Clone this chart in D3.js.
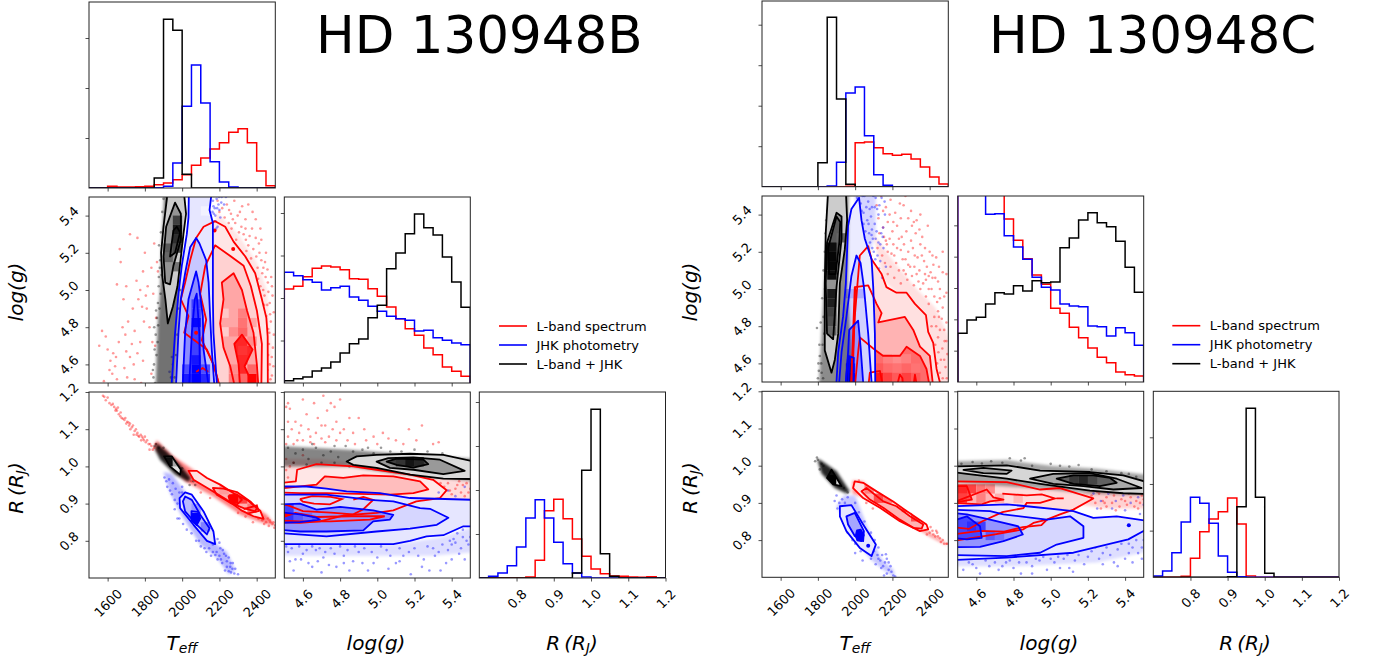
<!DOCTYPE html>
<html>
<head>
<meta charset="utf-8">
<script src="https://cdn.jsdelivr.net/npm/d3@7"></script>
<style>
  html, body { margin: 0; padding: 0; background: #fff; }
  text { font-family: "DejaVu Sans", sans-serif; fill: #000; }
</style>
</head>
<body>
<svg id="chart" width="1375" height="662"></svg>
<script>
// 1d histograms, 20 bins each
const bTeffRed = [0,0,5,3,3,4,5,10,15,25,40,68,90,117,136,167,178,136,51,7];
const bTeffBlue = [0,0,0,0,0,0,0,1,5,75,245,369,255,79,18,3,0,0,0,0];
const bTeffBlack = [0,0,0,0,0,0,0,30,506,473,41,0,0,0,0,0,0,0,0,0];
const bLoggRed = [282,290,319,344,351,348,340,313,311,283,260,228,193,163,143,105,85,48,35,20];
const bLoggBlue = [332,322,310,302,279,286,290,258,248,230,215,200,193,188,156,158,136,128,120,115];
const bLoggBlack = [7,13,18,36,45,63,90,118,132,196,233,343,390,448,507,466,444,378,303,227];
const bRadRed = [0,0,0,0,0,3,53,202,236,178,117,65,27,13,6,5,3,2,4,1];
const bRadBlue = [0,5,15,37,93,180,235,180,107,43,15,3,0,0,0,0,0,0,0,0];
const bRadBlack = [0,0,0,0,0,0,0,0,0,0,15,323,506,73,5,0,0,0,0,0];

const cTeffRed = [0,0,0,0,0,0,0,0,0,1,132,134,117,99,94,97,83,59,29,8];
const cTeffBlue = [0,0,0,0,0,0,0,2,73,281,299,153,36,4,0,0,0,0,0,0];
const cTeffBlack = [0,0,0,0,0,0,72,508,263,7,0,0,0,0,0,0,0,0,0,0];
const cLoggRed = [1000,900,800,700,600,489,425,370,321,293,221,206,164,133,102,74,58,30,22,18];
const cLoggBlue = [800,700,600,503,505,439,405,368,314,284,276,234,228,226,168,166,138,163,148,110];
const cLoggBlack = [146,186,194,234,268,264,289,273,304,298,300,403,432,486,508,478,466,422,344,269];
const cRadRed = [0,0,0,3,57,137,175,197,238,160,4,0,0,0,0,0,0,0,0,0];
const cRadBlue = [4,19,74,166,240,222,162,64,15,2,0,0,0,0,0,0,0,0,0,0];
const cRadBlack = [0,0,0,0,0,0,0,0,2,212,507,240,12,0,0,0,0,0,0,0];

// tick positions
const teffTicks = [1600,1800,2000,2200,2400];
const loggTicks = [4.6,4.8,5.0,5.2,5.4];
const radTicks = [0.8,0.9,1.0,1.1,1.2];
const bHistTicks = [[150,300,450],[127.5,255,382.5,510],[132,264,396,528]];
const cHistTicks = [[121.5,243,364.5,486],[94,188,282,376,470],[140,280,420]];

const legendLabels = ["L-band spectrum","JHK photometry","L-band + JHK"];

// ---- B, Teff vs log(g) ----
const bTgClouds = [
  ["red",[[2185,5.42],[2300,5.3],[2400,5.15],[2455,5.0],[2478,4.7],[2485,4.47],[2200,4.47],[2150,5.0]],0.1],
  ["black",[[1905,5.53],[1888,5.2],[1882,5.0],[1868,4.8],[1858,4.47],[1960,4.47],[1975,4.8],[1985,5.0],[1950,5.53]],0.55]
];
const bTgRedPts = [[1570,4.78],[1590,4.75],[1555,4.7],[1600,4.68],[1615,4.62],[1630,4.66],[1645,4.64],[1660,4.72],[1680,4.8],[1695,4.76],[1710,4.83],[1625,4.55],[1650,4.52],[1580,4.51],[1690,4.58],[1705,4.53],[1740,4.6],[1760,4.66],[1775,4.72],[1735,4.9],[1685,4.95],[1650,5.03],[1670,5.15],[1665,5.22],[1700,5.02],[1755,5.05],[1765,4.95],[1790,5.1],[1720,5.3],[1760,5.28],[1800,5.2],[1810,4.9],[1825,4.8],[1790,4.62],[1835,4.55],[1815,5.02],[1845,4.98],[1795,4.83],[1745,4.52],[1780,4.5],[1730,4.71],[1720,4.64],[1870,5.1],[1850,5.25],[1855,4.7],[1640,4.59],[1610,4.57],[1785,4.91],
  [2190,5.48],[2215,5.44],[2240,5.46],[2262,5.41],[2285,5.36],[2310,5.42],[2340,5.38],[2305,5.31],[2330,5.3],[2355,5.24],[2375,5.33],[2395,5.28],[2415,5.2],[2370,5.17],[2405,5.12],[2430,5.09],[2445,5.15],[2460,5.04],[2435,5.0],[2470,4.93],[2485,4.97],[2452,4.86],[2476,4.83],[2492,4.76],[2466,4.71],[2481,4.64],[2458,4.57],[2474,4.52],[2490,4.59],[2265,5.33],[2290,5.27],[2345,5.21],[2385,5.09],[2420,5.02],[2440,4.92],[2462,4.79],[2425,5.16],[2395,5.38],[2355,5.46],[2280,5.48],[2425,5.27],[2450,5.2],[2478,5.07],
  [2200,5.42],[2228,5.39],[2250,5.36],[2272,5.38],[2298,5.4],[2318,5.34],[2342,5.27],[2362,5.29],[2382,5.22],[2398,5.18],[2412,5.25],[2436,5.12],[2448,5.07],[2408,5.06],[2442,4.97],[2463,4.99],[2457,4.92],[2472,4.87],[2468,4.77],[2487,4.69],[2462,4.65],[2470,4.6],[2482,4.54],[2465,4.5],[2252,5.43],[2322,5.45],[2378,5.42],[2340,5.33],[2420,5.33],[2458,5.11],[2482,5.02],[2492,4.88],[1840,4.72],[1860,4.85],[1865,5.15],[1835,5.12],[1805,4.97],[1775,5.0],[1745,4.78],[1700,4.67]];
const bTgBluePts = [[2165,5.48],[2175,5.44],[2185,5.49],[2195,5.46],[2170,5.41],[2200,5.43],[2212,5.5],[2205,5.39],[2180,5.37],[2225,5.46],[2160,5.35],[1950,4.6],[1940,4.53],[2190,5.34],[2168,5.45],[2178,5.4],[2188,5.44],[2198,5.5],[2172,5.37],[2210,5.47],[2183,5.33],[2163,5.42],[2235,5.5],[1945,4.64],[1932,4.56]];
const bTgBlackPts = [[1900,5.49],[1893,5.42],[1886,5.31],[1880,5.12],[1876,5.24],[1874,5.02],[1870,4.93],[1865,4.85],[1858,4.76],[1852,4.68],[1849,4.6],[1846,4.53],[1843,4.57],[1855,4.5],[1862,4.65],[1868,4.72],[1871,4.81],[1878,4.9],[1884,4.98],[1890,5.08],[1897,5.2],[1960,4.53],[1968,4.65],[1975,4.76],[1982,4.9],[1990,5.0],[1860,4.89],[1875,5.07],[1882,5.16],[1850,4.8]];
const bTgRed = [
  [0.1,[[2460,4.47],[2459,4.75],[2452,4.85],[2428,4.95],[2392,5.09],[2339,5.18],[2276,5.26],[2231,5.34],[2177,5.37],[2115,5.34],[2075,5.28],[2043,5.16],[2016,5.04],[1993,4.95],[2034,4.86],[2011,4.77],[2133,4.68],[2172,4.59],[2204,4.47]]],
  [0.18,[[2425,4.47],[2428,4.71],[2401,4.89],[2369,5.02],[2330,5.13],[2249,5.19],[2177,5.24],[2124,5.13],[2097,4.98],[2129,4.84],[2106,4.73],[2168,4.6],[2204,4.47]]],
  [0.35,[[2276,5.09],[2213,5.04],[2222,4.95],[2204,4.82],[2222,4.69],[2258,4.59],[2285,4.47],[2410,4.47],[2401,4.6],[2383,4.77],[2348,4.89],[2321,5.0]]],
  [0.85,[[2321,4.76],[2378,4.68],[2335,4.59],[2389,4.47],[2312,4.47],[2303,4.6],[2280,4.71]]]
];
const bTgBlue = [
  [0.1,[[2036,5.53],[2034,5.39],[2025,5.3],[1998,5.13],[1980,4.98],[1962,4.77],[1942,4.47],[2188,4.47],[2168,4.77],[2165,4.95],[2165,5.2],[2165,5.36],[2147,5.43],[2159,5.53]]],
  [0.22,[[1966,4.47],[1980,4.77],[1993,4.95],[2016,5.09],[2043,5.23],[2075,5.28],[2093,5.25],[2129,5.16],[2142,5.04],[2150,4.86],[2159,4.68],[2174,4.47]]],
  [0.45,[[2002,4.47],[2016,4.77],[2034,4.95],[2061,5.05],[2075,5.1],[2088,5.04],[2111,4.86],[2115,4.68],[2144,4.47]]],
  [0.7,[[2037,4.47],[2052,4.77],[2068,4.95],[2078,4.98],[2092,4.77],[2097,4.47]]]
];
const bTgBlack = [
  [0.2,[[1923,4.82],[1910,4.95],[1894,5.07],[1887,5.2],[1900,5.34],[1918,5.49],[1920,5.53],[2009,5.53],[2021,5.41],[2007,5.3],[1989,5.14],[1975,5.02],[1950,4.91]]],
  [0.42,[[1909,5.04],[1900,5.18],[1914,5.34],[1962,5.47],[1993,5.41],[1993,5.27],[1953,5.13],[1935,5.03]]],
  [0.72,[[1935,5.18],[1953,5.32],[1971,5.34],[1989,5.31],[1962,5.2]]]
];
const bTgCells = [
  ["blue",2050,4.5,1],["blue",2050,4.55,1],["blue",2050,4.6,0.92],["blue",2050,4.65,0.75],["blue",2050,4.7,0.75],["blue",2050,4.75,0.75],["blue",2050,4.8,0.98],["blue",2050,4.85,0.75],["blue",2050,4.9,0.75],
  ["blue",2000,4.5,0.9],["blue",2000,4.55,0.7],["blue",2100,4.5,0.85],["blue",2100,4.55,0.7],["blue",2050,5.4,0.1],["blue",2100,5.4,0.05],
  ["red",2300,4.6,0.85],["red",2300,4.65,0.8],["red",2350,4.5,1],["red",2350,4.55,0.6],["red",2300,4.5,0.6],["red",2250,4.75,0.45],["red",2300,4.75,0.6],["red",2300,4.8,0.55],["red",2300,4.85,0.5],["red",2250,4.5,0.5],["red",2250,4.55,0.45],
  ["red",2200,4.75,0.2],["red",2200,4.85,0.22],["red",2350,4.7,0.45],["red",2350,4.8,0.35],
  ["black",1950,5.3,0.9],["black",1950,5.25,0.82],["black",1950,5.2,0.72],["black",1950,5.35,0.75],["black",1900,5.2,0.65],["black",1900,5.15,0.6],["black",1950,5.1,0.55]
];
const bTgSpots = [["red",2174,5.32],["red",2274,5.22],["red",2075,4.77]];
const bTgLines = [["red",[[2075,4.56],[2110,4.58],[2140,4.56]]]];

// ---- B, Teff vs R ----
const bTrClouds = [
  ["red",[[1864,1.07],[1945,1.03],[2061,0.99],[2165,0.955],[2312,0.915],[2455,0.87],[2500,0.84],[2420,0.85],[2312,0.87],[2165,0.92],[2016,0.96],[1890,1.03],[1846,1.05]],0.5],
  ["blue",[[1900,0.985],[1944,0.98],[2025,0.925],[2186,0.79],[2240,0.77],[2285,0.72],[2250,0.71],[2186,0.755],[2097,0.79],[1989,0.875],[1935,0.93]],0.28],
  ["black",[[1864,1.063],[1918,1.04],[1989,1.004],[2047,0.969],[2034,0.958],[1962,0.978],[1882,1.018],[1855,1.045]],0.85]
];
const bTrRedPts = [[1575,1.19],[1600,1.185],[1590,1.178],[1620,1.165],[1635,1.16],[1645,1.155],[1660,1.14],[1650,1.15],[1690,1.125],[1700,1.115],[1715,1.11],[1730,1.105],[1745,1.095],[1760,1.09],[1770,1.08],[1790,1.075],[1805,1.065],[1820,1.06],[1835,1.055],[1850,1.05],[1675,1.13],[1705,1.12],[1740,1.085],[1780,1.07],[1800,1.08],[1825,1.045],[2300,0.875],[2340,0.865],[2380,0.85],[2410,0.86],[2440,0.845],[2475,0.85],[2495,0.835],[2460,0.86],[2000,0.985],[2050,0.96],[1990,0.995],[2100,0.93],[2150,0.915],
  [1582,1.187],[1610,1.17],[1628,1.168],[1642,1.15],[1655,1.158],[1668,1.135],[1682,1.128],[1695,1.13],[1712,1.118],[1722,1.1],[1736,1.11],[1752,1.1],[1765,1.082],[1778,1.085],[1795,1.07],[1812,1.07],[1828,1.06],[1842,1.045],[1858,1.06],[1785,1.08],[1755,1.085],[1720,1.115],[1670,1.145],[2470,0.855],[2485,0.845],[2450,0.85],[2430,0.855],[2490,0.85],[2465,0.84],[2500,0.842]];
const bTrBluePts = [[2205,0.78],[2225,0.765],[2240,0.745],[2260,0.74],[2270,0.725],[2280,0.712],[2250,0.755],[2190,0.75],[2165,0.77],[2145,0.78],[2215,0.74],[2300,0.71],[2230,0.72],[2250,0.718],[1920,0.945],[1905,0.97],[1960,0.91],[2000,0.945],[2045,0.88],[2115,0.84],[2190,0.805],[1975,0.86],
  [1915,0.96],[1930,0.965],[1950,0.955],[1935,0.935],[1965,0.94],[1985,0.93],[1945,0.925],[1975,0.9],[2000,0.93],[1960,0.885],[1985,0.86],[2005,0.845],[2025,0.83],[2050,0.82],[2075,0.8],[2100,0.785],[2130,0.77],[2155,0.76],[2178,0.762],[2200,0.76],[2200,0.795],[2218,0.775],[2235,0.76],[2240,0.73],[2258,0.73],[2272,0.74],[2208,0.75],[2185,0.77],[2165,0.79],[2140,0.8],[2150,0.82],[2120,0.78],[2090,0.8],[2262,0.715],[2285,0.725]];
const bTrBlackPts = [[1852,1.055],[1860,1.06],[1875,1.05],[1900,1.05],[1925,1.025],[1960,1.01],[2000,0.995],[2040,0.95],[2060,0.96],[2070,0.95]];
const bTrRed = [
  [0.12,[[2034,0.988],[2079,0.988],[2133,0.969],[2204,0.951],[2276,0.928],[2348,0.91],[2419,0.881],[2437,0.859],[2383,0.866],[2321,0.881],[2240,0.91],[2151,0.937],[2061,0.964]]],
  [0.32,[[2165,0.942],[2222,0.94],[2294,0.931],[2366,0.906],[2401,0.888],[2392,0.879],[2330,0.888],[2258,0.902],[2186,0.924]]],
  [0.6,[[2249,0.92],[2294,0.925],[2321,0.91],[2294,0.897],[2258,0.905]]]
];
const bTrBlue = [
  [0.12,[[2016,0.93],[2052,0.924],[2115,0.879],[2168,0.825],[2177,0.791],[2133,0.8],[2061,0.843],[1989,0.888],[1986,0.915]]],
  [0.28,[[2016,0.919],[2052,0.91],[2097,0.87],[2147,0.834],[2133,0.817],[2079,0.843],[2016,0.879],[2004,0.906]]],
  [1,[[2050,0.88],[2085,0.878],[2097,0.86],[2078,0.842],[2050,0.855]]]
];
const bTrBlack = [
  [0.12,[[1903,1.027],[1944,1.027],[1993,0.991],[1989,0.978],[1935,1.0]]]
];
const bTrCells = [
  ["blue",2100,0.825,0.5],["blue",2050,0.875,0.4],
  ["red",2250,0.9,1],["red",2300,0.9,0.75],["red",2350,0.875,0.55],["red",2200,0.925,0.4],
  ["black",1900,1.0,0.95],["black",1900,1.025,0.9],["black",1950,1.0,0.35]
];
const bTrSpots = [];
const bTrLines = [["red",[[2330,0.885],[2401,0.895],[2410,0.88],[2350,0.873]]]];

// ---- B, log(g) vs R ----
const bGrClouds = [
  ["red",[[4.47,1.02],[4.7,1.02],[5.0,1.0],[5.53,0.96],[5.53,0.9],[4.47,0.9]],0.14],
  ["black",[[4.47,1.055],[4.85,1.045],[5.1,1.035],[5.53,1.02],[5.53,0.96],[5.1,0.98],[4.85,1.0],[4.6,1.0],[4.47,1.0]],0.48],
  ["blue",[[4.47,0.79],[5.1,0.79],[5.35,0.81],[5.53,0.84],[5.53,0.77],[5.3,0.76],[5.0,0.76],[4.47,0.76]],0.13]
];
const bGrRedPts = [[4.51,1.16],[4.52,1.17],[4.53,1.155],[4.6,1.18],[4.66,1.17],[4.71,1.19],[4.73,1.15],[4.75,1.17],[4.77,1.16],[4.8,1.18],[4.56,1.12],[4.62,1.14],[4.68,1.13],[4.72,1.11],[4.76,1.1],[4.85,1.13],[4.9,1.13],[4.93,1.1],[4.98,1.08],[5.03,1.09],[5.1,1.07],[5.17,1.1],[5.24,1.11],[5.3,1.06],[5.33,1.065],[4.52,1.08],[4.58,1.09],[4.64,1.08],[4.7,1.075],[4.8,1.09],[4.84,1.07],[4.55,1.06],[4.6,1.07],[4.66,1.06],[4.88,1.06],[5.0,1.06],[5.38,0.955],[5.42,0.94],[5.46,0.95],[5.49,0.93],[5.35,0.93],[5.4,0.925],[5.44,0.96],[5.3,0.945],[5.47,0.92],[5.36,0.945],[4.51,1.02],[4.53,1.0],[4.52,0.97],[4.55,1.01],[4.58,0.98],[4.6,1.03],
  [4.52,1.12],[4.54,1.1],[4.59,1.11],[4.63,1.1],[4.67,1.09],[4.7,1.11],[4.74,1.08],[4.78,1.12],[4.82,1.1],[4.87,1.09],[4.94,1.07],[5.06,1.075],[5.14,1.06],[5.21,1.07],[4.51,1.06],[4.57,1.07],[4.64,1.065],[4.72,1.065],[4.78,1.07],[5.32,0.94],[5.34,0.955],[5.39,0.935],[5.43,0.95],[5.45,0.93],[5.48,0.955],[5.5,0.94],[4.51,0.99]];
const bGrBluePts = [[4.52,0.77],[4.56,0.75],[4.6,0.765],[4.63,0.74],[4.67,0.775],[4.71,0.755],[4.75,0.78],[4.78,0.73],[4.82,0.76],[4.87,0.745],[4.9,0.77],[4.95,0.72],[5.0,0.755],[5.05,0.775],[5.1,0.74],[5.14,0.76],[5.2,0.78],[5.25,0.75],[5.28,0.72],[5.33,0.77],[5.37,0.74],[5.4,0.79],[5.44,0.765],[5.48,0.8],[5.5,0.81],[5.46,0.83],[5.43,0.82],[5.39,0.8],[5.47,0.75],[4.55,0.72],[4.7,0.715],[4.85,0.72],[5.18,0.71],[5.42,0.92],[5.47,0.945],[5.38,0.935],[5.33,0.93],[5.3,0.78],[4.92,0.74],[4.65,0.73],
  [4.51,0.785],[4.54,0.78],[4.58,0.785],[4.62,0.775],[4.65,0.785],[4.69,0.78],[4.72,0.77],[4.77,0.765],[4.8,0.785],[4.84,0.775],[4.88,0.785],[4.93,0.78],[4.97,0.77],[5.02,0.785],[5.07,0.76],[5.12,0.78],[5.17,0.77],[5.22,0.76],[5.27,0.785],[5.31,0.76],[5.35,0.79],[5.38,0.775],[5.42,0.795],[5.45,0.78],[5.49,0.79],[5.46,0.81],[5.41,0.805],[5.51,0.825],[4.53,0.745],[4.59,0.75],[4.68,0.745],[4.74,0.735],[4.82,0.74],[4.98,0.74],[5.12,0.745],[5.24,0.73],[5.4,0.75],[5.34,0.72],[5.06,0.725]];
const bGrBlackPts = [[4.52,1.05],[4.56,1.035],[4.6,1.045],[4.63,1.02],[4.67,1.05],[4.71,1.03],[4.75,1.04],[4.79,1.025],[4.83,1.055],[4.87,1.04],[4.92,1.045],[4.98,1.035],[5.02,1.05],[5.07,1.04],[5.13,1.04],[5.2,1.045],[5.27,1.04],[5.35,1.035],[4.55,1.01],[4.62,1.005],[4.7,1.01],[4.77,1.01],[4.85,1.0],[4.65,1.06],[4.77,1.055],[4.95,1.05]];
const bGrRed = [
  [0.1,[[4.47,0.955],[4.562,0.96],[4.569,0.991],[4.673,1.006],[4.871,1.0],[4.996,0.991],[5.176,0.978],[5.3,0.964],[5.373,0.936],[5.337,0.915],[5.21,0.906],[5.086,0.882],[4.996,0.875],[4.817,0.868],[4.691,0.852],[4.584,0.848],[4.47,0.85]]],
  [0.26,[[4.47,0.94],[4.673,0.951],[4.718,0.973],[4.817,0.969],[4.925,0.976],[5.086,0.973],[5.23,0.96],[5.274,0.938],[5.194,0.928],[5.068,0.924],[4.727,0.928],[4.584,0.928],[4.47,0.93]]]
];
const bGrBlue = [
  [0.1,[[4.47,0.946],[4.62,0.946],[4.727,0.94],[4.835,0.933],[5.014,0.928],[5.176,0.915],[5.53,0.91],[5.53,0.839],[5.463,0.839],[5.355,0.815],[5.265,0.812],[5.176,0.8],[5.086,0.791],[4.727,0.791],[4.47,0.791]]],
  [0.16,[[4.47,0.924],[4.727,0.924],[4.96,0.91],[5.086,0.906],[5.23,0.888],[5.283,0.886],[5.382,0.862],[5.32,0.843],[5.176,0.833],[4.996,0.825],[4.727,0.812],[4.47,0.821]]],
  [0.42,[[4.47,0.897],[4.584,0.9],[4.673,0.884],[4.8,0.891],[4.978,0.882],[5.086,0.87],[5.068,0.857],[4.978,0.852],[4.925,0.828],[4.727,0.825],[4.584,0.825],[4.47,0.83]]],
  [0.65,[[4.47,0.877],[4.584,0.871],[4.673,0.862],[4.691,0.857],[4.584,0.85],[4.47,0.848]]]
];
const bGrBlack = [
  [0.14,[[4.835,1.013],[4.889,1.027],[4.996,1.031],[5.176,1.034],[5.355,1.031],[5.53,1.012],[5.53,0.966],[5.355,0.967],[5.176,0.978],[4.996,0.996],[4.871,1.004]]],
  [0.4,[[4.996,1.013],[5.059,1.022],[5.194,1.024],[5.337,1.018],[5.47,0.988],[5.355,0.979],[5.194,0.991],[5.068,0.996]]],
  [0.75,[[5.05,1.013],[5.104,1.021],[5.248,1.018],[5.274,1.006],[5.194,0.997],[5.104,1.004]]]
];
const bGrCells = [
  ["blue",4.5,0.85,0.8],["blue",4.5,0.875,0.75],["blue",4.55,0.85,0.65],["blue",4.6,0.85,0.55],
  ["black",5.15,1.0,0.92],["black",5.2,1.0,0.85],["black",5.1,1.0,0.8]
];
const bGrSpots = [];
const bGrLines = [
  ["red",[[4.584,0.912],[4.65,0.92],[4.75,0.918],[4.81,0.912],[4.745,0.898],[4.66,0.9],[4.6,0.905],[4.584,0.912]]],
  ["red",[[4.47,0.9],[4.52,0.895],[4.6,0.88],[4.75,0.876],[4.871,0.871],[4.925,0.885],[4.978,0.91],[4.925,0.918],[4.871,0.911]]],
  ["red",[[4.47,0.86],[4.56,0.875],[4.673,0.864],[4.86,0.866],[5.04,0.866],[4.96,0.857],[4.75,0.852],[4.584,0.852],[4.47,0.855]]],
  ["red",[[4.47,0.88],[4.53,0.87],[4.47,0.868]]]
];

// ---- C, Teff vs log(g) ----
const cTgClouds = [
  ["red",[[2097,5.3],[2204,5.15],[2330,5.0],[2430,4.9],[2500,4.75],[2530,4.47],[2400,4.47],[2300,4.9],[2150,5.05]],0.12],
  ["blue",[[2000,5.53],[2110,5.53],[2110,5.3],[2080,5.2],[2040,5.25],[2000,5.4]],0.16],
  ["black",[[1860,5.53],[1845,5.25],[1832,5.0],[1820,4.78],[1805,4.47],[1990,4.47],[1960,5.0],[1965,5.53]],0.45]
];
const cTgRedPts = [[2140,5.5],[2165,5.44],[2190,5.48],[2215,5.41],[2240,5.46],[2270,5.5],[2300,5.42],[2330,5.37],[2125,5.38],[2150,5.33],[2175,5.36],[2200,5.31],[2225,5.34],[2250,5.28],[2275,5.31],[2300,5.26],[2325,5.3],[2350,5.24],[2120,5.22],[2145,5.18],[2170,5.24],[2195,5.19],[2220,5.14],[2245,5.21],[2270,5.16],[2295,5.12],[2320,5.18],[2345,5.1],[2370,5.15],[2395,5.07],[2420,5.13],[2445,5.04],[2470,5.09],[2490,4.98],[2175,5.08],[2210,5.06],[2245,5.03],[2280,5.05],[2315,5.02],[2350,5.0],[2380,4.96],[2410,5.0],[2440,4.93],[2470,4.9],[2490,4.82],[2395,4.92],[2425,4.85],[2455,4.78],[2480,4.72],[2430,4.7],[2460,4.62],[2485,4.58],[2440,4.6],[2470,4.52],[2450,4.85],[2360,5.28],[2400,5.2],[2435,5.17],[2470,5.2],[2225,5.22],[2260,5.1],[2305,5.34],[2350,5.4],[2390,5.34],[2260,5.45],[2455,4.95],[2410,4.8],[2495,4.65],[2380,5.05],[2330,5.08],
  [2155,5.28],[2185,5.27],[2205,5.24],[2235,5.27],[2262,5.24],[2285,5.2],[2310,5.22],[2335,5.17],[2358,5.18],[2385,5.12],[2405,5.09],[2430,5.06],[2455,5.0],[2478,4.96],[2160,5.14],[2190,5.12],[2235,5.1],[2272,5.08],[2305,5.07],[2340,5.04],[2365,5.03],[2395,5.0],[2425,4.96],[2445,4.88],[2465,4.84],[2435,4.8],[2478,4.78],[2445,4.74],[2468,4.68],[2490,4.72],[2447,4.66],[2478,4.62],[2455,4.55],[2492,4.52],[2175,5.2],[2210,5.18],[2255,5.16],[2285,5.13],[2318,5.12],[2375,5.08],[2415,5.06],[2150,5.42],[2185,5.4],[2205,5.36],[2245,5.38],[2285,5.38],[2315,5.36],[2130,5.3],[2115,5.45],[2165,5.26],[2345,5.32],[2375,5.22],[2415,5.18],[2450,5.12],[2490,5.08]];
const cTgBluePts = [[2010,5.49],[2030,5.46],[2050,5.5],[2070,5.47],[2090,5.44],[2110,5.49],[2130,5.45],[2045,5.41],[2065,5.37],[2085,5.39],[2105,5.35],[2125,5.4],[2075,5.3],[2095,5.27],[2115,5.31],[2135,5.24],[2100,5.2],[2120,5.18],[2150,5.33],[2160,5.4],[2080,5.25],[2045,5.35],[2105,5.44],[2140,5.3],[2165,5.12],[2135,5.15],
  [2020,5.44],[2040,5.5],[2060,5.44],[2078,5.43],[2098,5.5],[2118,5.43],[2142,5.49],[2055,5.31],[2072,5.35],[2090,5.32],[2110,5.27],[2125,5.25],[2152,5.22],[2148,5.28],[2092,5.22],[2108,5.16],[2128,5.11],[2145,5.06],[2088,5.29],[2035,5.42],[2158,5.47]];
const cTgBlackPts = [[1855,5.48],[1845,5.37],[1837,5.2],[1830,5.1],[1823,4.95],[1815,4.82],[1808,4.7],[1803,4.6],[1800,4.52],[1818,4.6],[1825,4.7],[1830,4.85],[1838,5.0],[1842,5.3],[1820,4.55],[1810,4.64],[1828,4.52],[1834,4.76],[1841,4.9],[1795,4.79],[1850,5.42],[1805,4.56]];
const cTgRed = [
  [0.12,[[2070,5.23],[2088,5.16],[2142,5.08],[2168,5.01],[2222,4.98],[2276,4.98],[2321,4.92],[2380,4.86],[2392,4.77],[2419,4.71],[2437,4.57],[2462,4.47],[1978,4.47],[1998,4.85],[2025,5.18]]],
  [0.3,[[1998,5.01],[2070,5.02],[2097,4.96],[2115,4.92],[2142,4.87],[2124,4.82],[2267,4.85],[2312,4.78],[2348,4.69],[2401,4.64],[2419,4.47],[1978,4.47]]],
  [0.58,[[2025,4.74],[2097,4.68],[2151,4.64],[2240,4.64],[2276,4.69],[2348,4.64],[2383,4.57],[2401,4.47],[1998,4.47],[2016,4.66]]],
  [0.95,[[2070,4.47],[2079,4.55],[2133,4.56],[2151,4.47]]],
  [0.95,[[2222,4.47],[2240,4.54],[2254,4.52],[2258,4.47]]],
  [0.95,[[2312,4.47],[2321,4.54],[2333,4.47]]]
];
const cTgBlue = [
  [0.08,[[1898,4.47],[1909,4.66],[1935,4.85],[1950,5.03],[1957,5.21],[1962,5.34],[1980,5.43],[2021,5.49],[2034,5.37],[2052,5.27],[2088,5.16],[2097,5.01],[2106,4.76],[2108,4.47]]],
  [0.18,[[1912,4.47],[1927,4.66],[1953,4.85],[1980,5.07],[2007,5.18],[2029,5.14],[2047,5.01],[2070,4.76],[2090,4.47]]],
  [0.42,[[1948,4.47],[1962,4.66],[1968,4.78],[2016,4.83],[2029,4.69],[2045,4.47]]],
  [0.8,[[1948,4.47],[1962,4.64],[1993,4.63],[1990,4.47]]]
];
const cTgBlack = [
  [0.2,[[1873,4.55],[1837,4.67],[1837,4.85],[1837,5.03],[1842,5.3],[1855,5.53],[1950,5.53],[1957,5.37],[1944,5.21],[1918,5.03],[1909,4.76],[1891,4.62]]],
  [0.42,[[1882,4.73],[1849,4.76],[1842,5.03],[1849,5.25],[1900,5.41],[1927,5.39],[1927,5.27],[1900,5.01]]],
  [0.65,[[1855,5.22],[1900,5.39],[1920,5.36],[1915,5.25],[1895,5.08],[1860,5.08]]]
];
const cTgCells = [
  ["black",1850,5.2,0.95],["black",1850,5.15,0.98],["black",1850,5.1,0.98],["black",1850,5.05,0.95],["black",1850,4.95,0.9],["black",1850,4.9,0.88],["black",1850,4.85,0.75],["black",1850,4.8,0.7],["black",1850,4.75,0.6],["black",1900,5.25,0.6],
  ["blue",1950,4.95,0.32],["blue",2000,4.95,0.32],["blue",1950,4.5,1],["blue",1950,4.55,0.9],
  ["red",2100,4.5,0.9],["red",2050,4.5,0.8],["red",2150,4.5,0.75],["red",2200,4.5,0.65],["red",2250,4.5,0.75],["red",2300,4.5,0.65],["red",2100,4.55,0.65],["red",2200,4.55,0.55],["red",2250,4.55,0.6],["red",2300,4.55,0.55],["red",2150,4.6,0.5],["red",2200,4.6,0.45],["red",2250,4.6,0.5]
];
const cTgSpots = [];
const cTgLines = [["blue",[[1962,4.47],[1968,4.6],[1975,4.64]]],["red",[[1985,4.47],[1998,4.9],[2000,5.01]]]];

// ---- C, Teff vs R ----
const cTrClouds = [
  ["red",[[1985,0.96],[2043,0.958],[2151,0.895],[2321,0.845],[2480,0.795],[2495,0.785],[2400,0.81],[2240,0.86],[2097,0.905],[1985,0.925]],0.42],
  ["blue",[[1940,0.92],[2000,0.92],[2070,0.83],[2140,0.75],[2205,0.72],[2215,0.7],[2150,0.72],[2080,0.75],[1980,0.815],[1900,0.89]],0.22],
  ["black",[[1796,1.019],[1819,1.013],[1900,0.985],[1971,0.931],[1953,0.925],[1891,0.94],[1819,0.98]],0.85]
];
const cTrRedPts = [[2390,0.83],[2420,0.815],[2445,0.81],[2470,0.8],[2490,0.79],[2405,0.835],[2435,0.825],[2460,0.795],[2350,0.85],[2375,0.84],[2300,0.87],[2020,0.96],[2000,0.955],[2150,0.905],[2210,0.865],[2260,0.86],[2095,0.885],[2060,0.9],[2400,0.82],[2415,0.825],[2430,0.81],[2455,0.805],[2478,0.79],[2495,0.79],[2440,0.82],[2385,0.815]];
const cTrBluePts = [[2160,0.74],[2180,0.72],[2195,0.715],[2170,0.75],[2150,0.73],[2135,0.745],[2205,0.705],[2120,0.76],[2100,0.77],[1900,0.92],[1915,0.9],[1905,0.885],[1925,0.865],[1940,0.845],[1960,0.82],[2000,0.79],[2060,0.77],[2040,0.745],
  [1930,0.91],[1945,0.9],[1960,0.915],[1890,0.905],[2000,0.9],[2020,0.875],[2050,0.85],[2085,0.82],[2105,0.8],[2125,0.78],[2145,0.76],[2165,0.762],[2125,0.75],[2140,0.725],[2155,0.705],[2190,0.73],[2110,0.735],[2085,0.75],[2000,0.765],[2170,0.71],[2180,0.74],[2215,0.702],[1985,0.8],[2030,0.77]];
const cTrBlackPts = [[1795,1.022],[1800,1.016],[1785,1.012],[1820,1.005],[1830,1.0],[1810,0.99],[1910,0.955],[1940,0.94],[1960,0.928]];
const cTrRed = [
  [0.12,[[1989,0.94],[1998,0.958],[2043,0.954],[2115,0.931],[2204,0.904],[2276,0.878],[2383,0.842],[2392,0.829],[2348,0.824],[2240,0.851],[2133,0.887],[2043,0.913]]],
  [0.3,[[2034,0.931],[2061,0.94],[2151,0.904],[2222,0.891],[2294,0.864],[2366,0.842],[2357,0.831],[2312,0.833],[2240,0.855],[2151,0.887],[2079,0.909]]]
];
const cTrBlue = [
  [0.1,[[1918,0.891],[1980,0.894],[2043,0.842],[2111,0.788],[2088,0.757],[2025,0.779],[1953,0.824],[1918,0.864]]],
  [0.35,[[1953,0.864],[1998,0.873],[2047,0.824],[2043,0.797],[1998,0.811],[1962,0.842]]],
  [1,[[2010,0.826],[2030,0.828],[2046,0.813],[2033,0.797],[2012,0.799],[2003,0.812]]]
];
const cTrBlack = [
  [0.12,[[1849,0.967],[1873,0.989],[1927,0.945],[1882,0.95]]]
];
const cTrCells = [
  ["red",2100,0.9,0.7],["red",2150,0.9,0.5],["red",2250,0.875,0.65],["red",2300,0.85,0.7],["red",2050,0.925,0.5],
  ["black",1850,0.95,1],["black",1850,0.975,0.95],["black",1900,0.975,0.55],["black",1900,0.95,0.15]
];
const cTrSpots = [["blue",2070,0.785]];
const cTrLines = [];

// ---- C, log(g) vs R ----
const cGrClouds = [
  ["red",[[5.18,0.93],[5.53,0.945],[5.53,0.885],[5.3,0.885],[5.1,0.9]],0.18],
  ["black",[[4.47,1.012],[4.764,1.015],[5.0,1.0],[5.25,0.992],[5.53,0.975],[5.53,0.92],[5.2,0.925],[4.9,0.94],[4.47,0.955]],0.36],
  ["blue",[[4.47,0.75],[5.0,0.76],[5.2,0.79],[5.4,0.8],[5.53,0.84],[5.53,0.77],[5.25,0.74],[4.8,0.73],[4.47,0.73]],0.13]
];
const cGrRedPts = [[5.22,0.92],[5.26,0.925],[5.3,0.915],[5.34,0.92],[5.38,0.91],[5.42,0.925],[5.46,0.905],[5.49,0.92],[5.24,0.9],[5.28,0.905],[5.33,0.9],[5.37,0.89],[5.41,0.895],[5.45,0.89],[5.48,0.9],[5.3,0.89],[5.36,0.93],[5.44,0.935],[5.2,0.91],[5.25,0.93],[5.32,0.93],[5.39,0.93],[5.47,0.93],[5.27,0.885],[5.35,0.88],[5.43,0.915],[5.5,0.91],[5.4,0.905],[5.29,0.9],[5.47,0.885]];
const cGrBluePts = [[4.53,0.72],[4.58,0.735],[4.62,0.71],[4.67,0.73],[4.72,0.72],[4.76,0.74],[4.8,0.725],[4.84,0.71],[4.9,0.73],[4.94,0.745],[4.98,0.72],[5.02,0.74],[5.07,0.75],[5.1,0.725],[5.15,0.76],[5.18,0.735],[5.22,0.77],[5.26,0.75],[5.3,0.78],[5.34,0.74],[5.38,0.79],[5.42,0.765],[5.46,0.8],[5.49,0.78],[5.44,0.74],[5.23,0.925],[5.27,0.905],[5.31,0.925],[5.35,0.905],[5.39,0.92],[5.43,0.9],[5.47,0.915],[5.5,0.895],[5.33,0.885],[5.4,0.88],[5.48,0.87],[5.25,0.885],
  [4.56,0.74],[4.6,0.725],[4.65,0.745],[4.7,0.74],[4.74,0.73],[4.78,0.745],[4.83,0.74],[4.87,0.74],[4.92,0.75],[4.96,0.755],[5.0,0.75],[5.04,0.755],[5.09,0.76],[5.13,0.745],[5.17,0.775],[5.2,0.755],[5.24,0.78],[5.28,0.765],[5.32,0.76],[5.36,0.775],[5.4,0.75],[5.44,0.78],[5.47,0.765],[5.5,0.8],[5.49,0.75],[5.36,0.73],[5.28,0.735],[5.12,0.715],[5.05,0.725],[4.9,0.71],[5.45,0.82],[5.42,0.79],[5.5,0.825]];
const cGrBlackPts = [[4.52,1.005],[4.58,1.01],[4.63,1.006],[4.68,1.012],[4.74,1.008],[4.78,1.02],[4.84,1.014],[4.86,1.02],[4.9,1.0],[5.0,1.005],[5.1,0.998],[5.15,1.002],[5.22,0.99],[5.3,0.985],[5.38,0.98],[5.46,0.97],[5.42,0.978],[5.05,1.0]];
const cGrRed = [
  [0.14,[[4.47,0.958],[4.764,0.956],[4.943,0.936],[5.05,0.94],[5.229,0.912],[5.122,0.882],[5.05,0.869],[4.979,0.855],[4.907,0.846],[4.853,0.829],[4.692,0.815],[4.47,0.797]]],
  [0.3,[[4.47,0.9],[4.656,0.936],[4.692,0.915],[4.746,0.909],[4.674,0.904],[4.629,0.896],[4.47,0.9]]],
  [0.7,[[4.47,0.945],[4.549,0.945],[4.576,0.909],[4.47,0.9]]]
];
const cGrBlue = [
  [0.1,[[4.47,0.891],[4.764,0.896],[4.871,0.891],[5.122,0.878],[5.229,0.86],[5.355,0.864],[5.53,0.851],[5.53,0.833],[5.417,0.802],[5.3,0.788],[5.122,0.766],[4.764,0.753],[4.47,0.746]]],
  [0.16,[[4.47,0.882],[4.674,0.878],[4.746,0.869],[4.979,0.855],[5.104,0.864],[5.176,0.837],[5.176,0.806],[5.032,0.788],[4.943,0.766],[4.764,0.757],[4.47,0.76]]],
  [0.42,[[4.47,0.873],[4.549,0.869],[4.674,0.855],[4.826,0.837],[4.85,0.815],[4.746,0.797],[4.62,0.782],[4.47,0.781]]],
  [0.72,[[4.47,0.851],[4.549,0.864],[4.62,0.837],[4.629,0.806],[4.549,0.802],[4.47,0.806]]]
];
const cGrBlack = [
  [0.16,[[4.47,0.998],[4.764,1.001],[4.943,0.987],[5.211,0.983],[5.39,0.974],[5.53,0.954],[5.53,0.924],[5.39,0.926],[5.211,0.933],[4.943,0.951],[4.764,0.965],[4.549,0.978],[4.47,0.983]]],
  [0.34,[[4.531,0.989],[4.638,0.994],[4.79,0.987],[4.764,0.978],[4.638,0.98]]],
  [0.34,[[4.889,0.965],[5.014,0.978],[5.211,0.98],[5.355,0.965],[5.489,0.94],[5.337,0.936],[5.176,0.945],[5.014,0.951]]],
  [0.62,[[5.032,0.965],[5.122,0.974],[5.229,0.974],[5.319,0.967],[5.355,0.954],[5.265,0.945],[5.122,0.951]]]
];
const cGrCells = [
  ["black",5.15,0.95,0.85],["black",5.1,0.95,0.78],["black",5.2,0.95,0.72],
  ["red",4.5,0.925,0.85],["red",4.55,0.925,0.75],["red",4.5,0.9,0.75],["red",4.6,0.925,0.55],["red",4.65,0.925,0.45],["red",4.6,0.9,0.5],["red",4.7,0.9,0.32],["red",4.8,0.9,0.28],
  ["blue",4.55,0.825,0.82],["blue",4.6,0.825,0.75],["blue",4.65,0.8,0.65],["blue",4.7,0.8,0.55]
];
const cGrSpots = [["blue",5.42,0.84]];
const cGrLines = [
  ["red",[[4.47,0.815],[4.62,0.825],[4.75,0.823],[4.85,0.835],[4.95,0.84],[4.98,0.855]]],
  ["red",[[4.47,0.835],[4.56,0.83],[4.63,0.85],[4.74,0.875],[4.853,0.886],[4.871,0.9],[4.943,0.9],[5.023,0.912],[4.952,0.923],[4.871,0.92],[4.74,0.925]]],
  ["red",[[5.03,0.912],[5.07,0.912]]]
];

const COLORS = {red:"#ff0000", blue:"#0000ff", black:"#000000"};
const ORDER = ["red","blue","black"];
const DOMAINS = {teff:[1500,2500], logg:[4.5,5.5], rad:[0.7,1.2]};
const BIN = {teff:50, logg:0.05, rad:0.025};
const TICKS = {teff:teffTicks, logg:loggTicks, rad:radTicks};
const FMT = {teff:d3.format("d"), logg:d3.format(".1f"), rad:d3.format(".1f")};

const svg = d3.select("#chart");
const defs = svg.append("defs");
defs.append("filter").attr("id","soft").append("feGaussianBlur").attr("stdDeviation",1.6);
let clipCount = 0;

function newClip() {
  const id = "clip" + (clipCount++);
  return {id:id, node:defs.append("clipPath").attr("id",id)};
}

function makePanel(box) {
  // box: x0,x1,y0,y1 in pixels
  const clip = newClip();
  clip.node.append("rect")
    .attr("x",box.x0).attr("y",box.y0).attr("width",box.x1-box.x0).attr("height",box.y1-box.y0);
  const g = svg.append("g");
  return {g:g, inner:g.append("g").attr("clip-path",`url(#${clip.id})`), box:box};
}

function frame(p, xs, ys, xTicks, yTicks, showX, showY, fmtX, fmtY) {
  const box = p.box;
  const xAxis = p.g.append("g").attr("transform",`translate(0,${box.y1})`)
    .call(d3.axisBottom(xs).tickValues(xTicks).tickSize(3.5).tickSizeOuter(0).tickFormat(showX ? fmtX : ""));
  const yAxis = p.g.append("g").attr("transform",`translate(${box.x0},0)`)
    .call(d3.axisLeft(ys).tickValues(yTicks).tickSize(3.5).tickSizeOuter(0).tickFormat(showY ? fmtY : ""));
  [xAxis,yAxis].forEach(a => {
    a.selectAll(".domain").remove();
    a.selectAll("line").attr("stroke","#222").attr("stroke-width",0.8);
    a.selectAll("text").attr("font-size",13).attr("font-family","DejaVu Sans");
  });
  xAxis.selectAll("text").each(function() {
    const n = d3.select(this).text().length;
    d3.select(this).attr("text-anchor","middle").attr("x",0).attr("y",0).attr("dy",".35em")
      .attr("transform",`translate(0,${n > 3 ? 25 : 21}) rotate(-45)`);
  });
  yAxis.selectAll("text").each(function() {
    d3.select(this).attr("text-anchor","middle").attr("x",0).attr("y",0).attr("dy",".35em")
      .attr("transform","translate(-20,0) rotate(-45)");
  });
  p.g.append("rect").attr("x",box.x0).attr("y",box.y0).attr("width",box.x1-box.x0).attr("height",box.y1-box.y0)
    .attr("fill","none").attr("stroke","#222").attr("stroke-width",1);
}

function histPanel(box, key, hists, ticks, showX, fmtX) {
  const p = makePanel(box);
  const xs = d3.scaleLinear().domain(DOMAINS[key]).range([box.x0,box.x1]);
  const ys = d3.scaleLinear().domain([0,box.y1-box.y0].map(v => v*3)).range([box.y1,box.y0]);
  const line = d3.line().curve(d3.curveStepAfter).x(d => xs(d[0])).y(d => ys(d[1]));
  ORDER.forEach((name,i) => {
    const pts = [[DOMAINS[key][0],0]];
    hists[i].forEach((v,k) => pts.push([DOMAINS[key][0]+k*BIN[key],v]));
    pts.push([DOMAINS[key][1],hists[i][hists[i].length-1]]);
    pts.push([DOMAINS[key][1],0]);
    p.inner.append("path").attr("d",line(pts)).attr("fill","none")
      .attr("stroke",COLORS[name]).attr("stroke-width",1.5);
  });
  frame(p, xs, ys, TICKS[key], ticks, showX, false, FMT[key], null);
}

function densityPanel(box, keyX, keyY, d, showX, showY) {
  const p = makePanel(box);
  const xs = d3.scaleLinear().domain(DOMAINS[keyX]).range([box.x0,box.x1]);
  const ys = d3.scaleLinear().domain(DOMAINS[keyY]).range([box.y1,box.y0]);
  const line = d3.line().x(v => xs(v[0])).y(v => ys(v[1]));
  const shade = (name,l) => d3.interpolateRgb("#ffffff",COLORS[name])(l);

  ORDER.forEach(name => {
    d.clouds.filter(c => c[0] === name).forEach(c => {
      p.inner.append("path").attr("d",line(c[1])+"Z").attr("fill",COLORS[name])
        .attr("opacity",c[2]).attr("filter","url(#soft)");
    });
    p.inner.append("g").selectAll("circle").data(d.pts[name]).join("circle")
      .attr("cx",v => xs(v[0])).attr("cy",v => ys(v[1])).attr("r",1.3)
      .attr("fill",COLORS[name]).attr("opacity",0.4);
    d.levels[name].forEach(c => {
      p.inner.append("path").attr("d",line(c[1])+"Z").attr("fill",shade(name,c[0]));
    });
    // the density cells only show inside the outer contour
    const cellClip = newClip();
    cellClip.node.append("path").attr("d",line(d.levels[name][0][1])+"Z");
    const cells = p.inner.append("g").attr("clip-path",`url(#${cellClip.id})`);
    d.cells.filter(c => c[0] === name).forEach(c => {
      cells.append("rect").attr("x",xs(c[1])).attr("y",ys(c[2]+BIN[keyY]))
        .attr("width",xs(c[1]+BIN[keyX])-xs(c[1])).attr("height",ys(c[2])-ys(c[2]+BIN[keyY]))
        .attr("fill",shade(name,c[3]));
    });
  });
  ORDER.forEach(name => {
    d.levels[name].forEach(c => {
      p.inner.append("path").attr("d",line(c[1])+"Z").attr("fill","none")
        .attr("stroke",COLORS[name]).attr("stroke-width",1.8).attr("stroke-linejoin","round");
    });
    d.lines.filter(c => c[0] === name).forEach(c => {
      p.inner.append("path").attr("d",line(c[1])).attr("fill","none")
        .attr("stroke",COLORS[name]).attr("stroke-width",1.8);
    });
    d.spots.filter(c => c[0] === name).forEach(c => {
      p.inner.append("circle").attr("cx",xs(c[1])).attr("cy",ys(c[2])).attr("r",2).attr("fill",COLORS[name]);
    });
  });
  frame(p, xs, ys, TICKS[keyX], TICKS[keyY], showX, showY, FMT[keyX], FMT[keyY]);
}

function axisLabel(x, y, rotate, parts) {
  const t = svg.append("text").attr("transform",`translate(${x},${y}) rotate(${rotate})`)
    .attr("text-anchor","middle").attr("font-size",20);
  parts.forEach(s => {
    t.append("tspan").text(s[0]).attr("font-style",s[1] ? "italic" : "normal")
      .attr("baseline-shift",s[2] ? "-24%" : null).attr("font-size",s[2] ? 14 : 20);
  });
}

function figure(cfg) {
  const box = (c,r) => ({x0:cfg.cols[c][0], x1:cfg.cols[c][1], y0:cfg.rows[r][0], y1:cfg.rows[r][1]});
  histPanel(box(0,0),"teff",cfg.hTeff,cfg.histTicks[0],false,null);
  histPanel(box(1,1),"logg",cfg.hLogg,cfg.histTicks[1],false,null);
  histPanel(box(2,2),"rad",cfg.hRad,cfg.histTicks[2],true,FMT.rad);
  densityPanel(box(0,1),"teff","logg",cfg.tg,false,true);
  densityPanel(box(0,2),"teff","rad",cfg.tr,true,true);
  densityPanel(box(1,2),"logg","rad",cfg.gr,true,false);

  svg.append("text").attr("x",cfg.titleX).attr("y",53).attr("font-size",51.5).text(cfg.title);

  legendLabels.forEach((s,i) => {
    const y = cfg.legY + i*19;
    svg.append("line").attr("x1",cfg.legX).attr("x2",cfg.legX+28).attr("y1",y).attr("y2",y)
      .attr("stroke",COLORS[ORDER[i]]).attr("stroke-width",1.6);
    svg.append("text").attr("x",cfg.legX+37.5).attr("y",y+4.5).attr("font-size",13).text(s);
  });

  axisLabel(cfg.labY,292,-90,[["log(g)",true]]);
  axisLabel(cfg.labY,488,-90,[["R\u2009(R",true],["J",true,true],[")",true]]);
  axisLabel(cfg.labX[0],650,0,[["T",true],["eff",true,true]]);
  axisLabel(cfg.labX[1],650,0,[["log(g)",true]]);
  axisLabel(cfg.labX[2],650,0,[["R\u2009(R",true],["J",true,true],[")",true]]);
}

figure({
  title:"HD 130948B", titleX:316,
  cols:[[89,275.3],[284.3,470.3],[479.3,665.5]], rows:[[2,188],[197,383],[392,578]],
  legX:499, legY:326, labY:23, labX:[182,376,572],
  histTicks:bHistTicks,
  hTeff:[bTeffRed,bTeffBlue,bTeffBlack], hLogg:[bLoggRed,bLoggBlue,bLoggBlack], hRad:[bRadRed,bRadBlue,bRadBlack],
  tg:{clouds:bTgClouds, pts:{red:bTgRedPts,blue:bTgBluePts,black:bTgBlackPts}, levels:{red:bTgRed,blue:bTgBlue,black:bTgBlack}, cells:bTgCells, spots:bTgSpots, lines:bTgLines},
  tr:{clouds:bTrClouds, pts:{red:bTrRedPts,blue:bTrBluePts,black:bTrBlackPts}, levels:{red:bTrRed,blue:bTrBlue,black:bTrBlack}, cells:bTrCells, spots:bTrSpots, lines:bTrLines},
  gr:{clouds:bGrClouds, pts:{red:bGrRedPts,blue:bGrBluePts,black:bGrBlackPts}, levels:{red:bGrRed,blue:bGrBlue,black:bGrBlack}, cells:bGrCells, spots:bGrSpots, lines:bGrLines}
});
figure({
  title:"HD 130948C", titleX:989,
  cols:[[762,948.3],[957.7,1143.7],[1153.3,1339]], rows:[[1,186.7],[196,382],[391.3,577.3]],
  legX:1172.3, legY:325.7, labY:697, labX:[855,1049,1245],
  histTicks:cHistTicks,
  hTeff:[cTeffRed,cTeffBlue,cTeffBlack], hLogg:[cLoggRed,cLoggBlue,cLoggBlack], hRad:[cRadRed,cRadBlue,cRadBlack],
  tg:{clouds:cTgClouds, pts:{red:cTgRedPts,blue:cTgBluePts,black:cTgBlackPts}, levels:{red:cTgRed,blue:cTgBlue,black:cTgBlack}, cells:cTgCells, spots:cTgSpots, lines:cTgLines},
  tr:{clouds:cTrClouds, pts:{red:cTrRedPts,blue:cTrBluePts,black:cTrBlackPts}, levels:{red:cTrRed,blue:cTrBlue,black:cTrBlack}, cells:cTrCells, spots:cTrSpots, lines:cTrLines},
  gr:{clouds:cGrClouds, pts:{red:cGrRedPts,blue:cGrBluePts,black:cGrBlackPts}, levels:{red:cGrRed,blue:cGrBlue,black:cGrBlack}, cells:cGrCells, spots:cGrSpots, lines:cGrLines}
});
</script>
</body>
</html>
